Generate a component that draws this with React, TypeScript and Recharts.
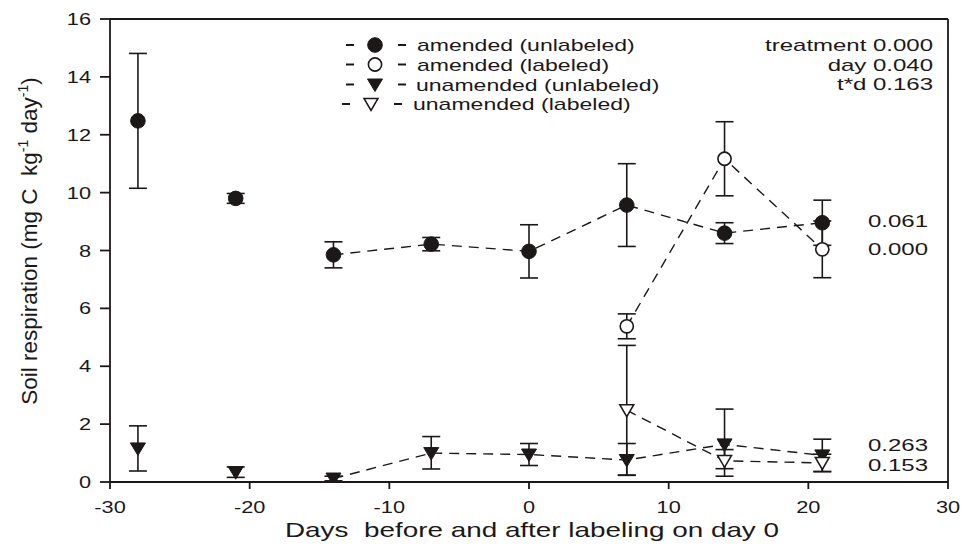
import React from 'react';
import { ComposedChart, Scatter, Line, XAxis, YAxis, ErrorBar, ReferenceLine, Customized } from 'recharts';

// ---- data ----
const days = [-28, -21, -14, -7, 0, 7, 14, 21];
const amendedUnlabeled = [12.48, 9.8, 7.85, 8.22, 7.97, 9.57, 8.6, 8.96];
const amendedUnlabeledErr = [2.33, 0.17, 0.45, 0.23, 0.92, 1.43, 0.36, 0.78];
const unamendedUnlabeled = [1.16, 0.34, 0.12, 1.0, 0.95, 0.76, 1.3, 0.92];
const unamendedUnlabeledErr = [[0.78, 0.78], [0.18, 0.18], [0.08, 0.08], [0.55, 0.57], [0.38, 0.38], [0.53, 0.57], [0.84, 1.22], [0.56, 0.56]];
const labeledDays = [7, 14, 21];
const amendedLabeled = [5.38, 11.17, 8.04];
const amendedLabeledErr = [0.43, 1.28, 0.98];
const unamendedLabeled = [2.48, 0.73, 0.66];
const unamendedLabeledErr = [[2.24, 2.24], [0.53, 0.39], [0.3, 0.3]];
const lineStartDay = -14;

const xTicks = [-30, -20, -10, 0, 10, 20, 30];
const yTicks = [0, 2, 4, 6, 8, 10, 12, 14, 16];
const legendLabels = ['amended (unlabeled)', 'amended (labeled)', 'unamended (unlabeled)', 'unamended (labeled)'];
const statsLabels = ['treatment 0.000', 'day 0.040', 't*d 0.163'];
const amendedP = ['0.061', '0.000'];
const unamendedP = ['0.263', '0.153'];
const xTitle = 'Days  before and after labeling on day 0';

// ---- build tables ----
const mk = (ds: number[], vs: number[], es: any[]) => ds.map((d, i) => ({ day: d, v: vs[i], err: es[i] }));
const auData = mk(days, amendedUnlabeled, amendedUnlabeledErr);
const uuData = mk(days, unamendedUnlabeled, unamendedUnlabeledErr);
const alData = mk(labeledDays, amendedLabeled, amendedLabeledErr);
const ulData = mk(labeledDays, unamendedLabeled, unamendedLabeledErr);
const auLine = auData.filter((p) => p.day >= lineStartDay);
const uuLine = uuData.filter((p) => p.day >= lineStartDay);

const INK = '#1c1818';
const FONT = '"Liberation Sans", Arial, sans-serif';

const FilledCircle = (p: any) => <circle cx={p.cx} cy={p.cy} r={7.3} fill={INK} stroke={INK} strokeWidth={1} />;
const OpenCircle = (p: any) => <circle cx={p.cx} cy={p.cy} r={6.6} fill="#fff" stroke={INK} strokeWidth={1.6} />;
const FilledTri = (p: any) => (
  <path d={`M${p.cx - 7.5},${p.cy - 5.5} L${p.cx + 7.5},${p.cy - 5.5} L${p.cx},${p.cy + 7} Z`} fill={INK} stroke={INK} strokeWidth={1} />
);
const OpenTri = (p: any) => (
  <path d={`M${p.cx - 7},${p.cy - 5.5} L${p.cx + 7},${p.cy - 5.5} L${p.cx},${p.cy + 6.5} Z`} fill="#fff" stroke={INK} strokeWidth={1.5} />
);

const ST = ({ x, y, anchor = 'start', size = 16, sx = 1.44, children }: any) => (
  <text
    transform={`translate(${x},${y}) scale(${sx},1)`}
    textAnchor={anchor}
    fontSize={size}
    fontFamily={FONT}
    fill={INK}
    style={{ whiteSpace: 'pre' }}
  >
    {children}
  </text>
);

const XTick = (props: any) => (
  <ST x={props.x} y={props.y + 22} anchor="middle" size={16.5} sx={1.32}>
    {props.payload.value}
  </ST>
);
const YTick = (props: any) => (
  <ST x={props.x - 7} y={props.y + 6} anchor="end" size={16.5} sx={1.32}>
    {props.payload.value}
  </ST>
);

const legendShapes = [FilledCircle, OpenCircle, FilledTri, OpenTri];
const legendBase = [51, 70.5, 90.5, 110];
const legendTextX = [417, 417, 416, 413];
const legendShift = [0, 0, 0, -4];

const Annotations = () => (
  <g>
    {legendLabels.map((lab, i) => {
      const y = legendBase[i] - 6;
      const s = legendShift[i];
      const Shape = legendShapes[i];
      return (
        <g key={lab}>
          <line x1={346 + s} x2={354 + s} y1={y} y2={y} stroke={INK} strokeWidth={2} />
          <Shape cx={375 + s} cy={y} />
          <line x1={398 + s} x2={406 + s} y1={y} y2={y} stroke={INK} strokeWidth={2} />
          <ST x={legendTextX[i]} y={legendBase[i]}>{lab}</ST>
        </g>
      );
    })}
    {statsLabels.map((s, i) => (
      <ST key={s} x={933} y={[50.7, 70.7, 90.3][i]} anchor="end" sx={1.5}>{s}</ST>
    ))}
    {amendedP.map((s, i) => (
      <ST key={'a' + i} x={868} y={[226.7, 255][i]} sx={1.5}>{s}</ST>
    ))}
    {unamendedP.map((s, i) => (
      <ST key={'u' + i} x={868} y={[450.7, 470.7][i]} sx={1.5}>{s}</ST>
    ))}
    <ST x={532} y={537} anchor="middle" size={20.5} sx={1.36}>{xTitle}</ST>
    <text
      transform="translate(37,241) rotate(-90)"
      textAnchor="middle"
      fontSize={22.5}
      fontFamily={FONT}
      fill={INK}
      style={{ whiteSpace: 'pre' }}
    >
      {'Soil respiration (mg C  kg'}
      <tspan fontSize={14} dy={-9}>-1</tspan>
      <tspan dy={9}>{' day'}</tspan>
      <tspan fontSize={14} dy={-9}>-1</tspan>
      <tspan dy={9}>)</tspan>
    </text>
  </g>
);

const axisStyle = { stroke: INK, strokeWidth: 1.8 };
const dash = '10 7';

export default function App() {
  return (
    <div style={{ position: 'absolute', left: 0, top: 0, width: 963, height: 559, background: '#fff' }}>
      <ComposedChart width={963} height={559} margin={{ top: 19, right: 15, bottom: 37, left: 50 }}>
        <XAxis
          type="number"
          dataKey="day"
          domain={[-30, 30]}
          ticks={xTicks}
          allowDataOverflow
          interval={0}
          height={40}
          tickSize={7}
          axisLine={axisStyle}
          tickLine={axisStyle}
          tick={XTick}
        />
        <YAxis
          type="number"
          domain={[0, 16]}
          ticks={yTicks}
          allowDataOverflow
          interval={0}
          width={60}
          tickSize={10}
          axisLine={axisStyle}
          tickLine={axisStyle}
          tick={YTick}
        />
        <ReferenceLine y={16} stroke={INK} strokeWidth={1.8} />
        <ReferenceLine x={30} stroke={INK} strokeWidth={1.8} />
        <Line data={auLine} dataKey="v" stroke={INK} strokeWidth={1.4} strokeDasharray={dash} dot={false} activeDot={false} isAnimationActive={false} />
        <Line data={uuLine} dataKey="v" stroke={INK} strokeWidth={1.4} strokeDasharray={dash} dot={false} activeDot={false} isAnimationActive={false} />
        <Line data={alData} dataKey="v" stroke={INK} strokeWidth={1.4} strokeDasharray={dash} dot={false} activeDot={false} isAnimationActive={false} />
        <Line data={ulData} dataKey="v" stroke={INK} strokeWidth={1.4} strokeDasharray={dash} dot={false} activeDot={false} isAnimationActive={false} />
        <Scatter data={auData} dataKey="v" shape={FilledCircle} isAnimationActive={false}>
          <ErrorBar dataKey="err" direction="y" width={9} stroke={INK} strokeWidth={1.6} />
        </Scatter>
        <Scatter data={uuData} dataKey="v" shape={FilledTri} isAnimationActive={false}>
          <ErrorBar dataKey="err" direction="y" width={9} stroke={INK} strokeWidth={1.6} />
        </Scatter>
        <Scatter data={alData} dataKey="v" shape={OpenCircle} isAnimationActive={false}>
          <ErrorBar dataKey="err" direction="y" width={9} stroke={INK} strokeWidth={1.6} />
        </Scatter>
        <Scatter data={ulData} dataKey="v" shape={OpenTri} isAnimationActive={false}>
          <ErrorBar dataKey="err" direction="y" width={9} stroke={INK} strokeWidth={1.6} />
        </Scatter>
        <Customized component={Annotations} />
      </ComposedChart>
    </div>
  );
}
